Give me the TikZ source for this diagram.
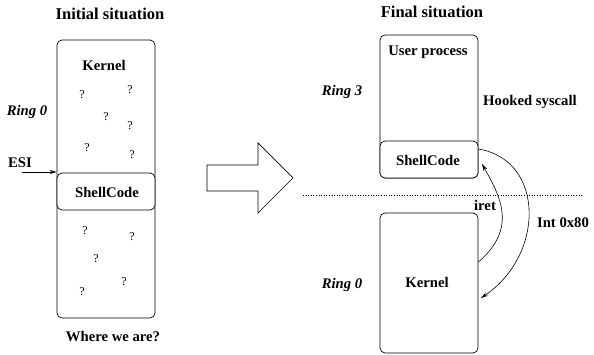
\documentclass[tikz,border=0pt]{standalone}
\usepackage{fontspec}
\setmainfont{Liberation Serif}
\usetikzlibrary{arrows.meta}
\begin{document}
\begin{tikzpicture}[x=1pt,y=-1pt,
  box/.style={draw,line width=0.7pt,rounded corners=5pt,inner sep=0pt},
  title/.style={font=\fontsize{16.5}{19}\selectfont\bfseries},
  lbl/.style={font=\fontsize{14.7}{17}\selectfont\bfseries},
  ring/.style={font=\fontsize{14.7}{17}\selectfont\bfseries\itshape},
  qm/.style={font=\fontsize{12}{14}\selectfont},
  arr/.style={line width=0.6pt,-{Stealth[length=7pt,width=4pt]}}]
\useasboundingbox (0,0) rectangle (594,355);
% left side
\node[box,minimum width=98pt,minimum height=278pt] (lbox) at (106,179) {};
\node[box,fill=white,minimum width=98pt,minimum height=37pt] (lsc) at (106,191.5) {};
\node[title] (tinit) at (110,14) {Initial situation};
\node[lbl] (lkern) at (104,65) {Kernel};
\node[lbl] (lsct) at (107,192) {ShellCode};
\node[ring] (lring) at (27,112) {Ring 0};
\node[lbl] (esi) at (20,163) {ESI};
\node[lbl] (where) at (113,337) {Where we are?};
\coordinate (esistart) at (22,172);
\draw[arr] (esistart) -- (esistart -| lbox.west);
\foreach \x/\y [count=\i] in {82/95,130/90,106/117,130/126,87/148,132/155,85/231,132/237,96/259,124/282,82/292}
  \node[qm] (q\i) at (\x,\y) {?};
% big arrow
\draw[line width=0.7pt] (207,165) -- (258,165) -- (258,143) -- (293,178) -- (258,213) -- (258,191) -- (207,191) -- cycle;
% right side
\node[box,minimum width=98pt,minimum height=143pt] (ubox) at (429,106.5) {};
\node[box,fill=white,minimum width=98pt,minimum height=37pt] (rsc) at (429,159.5) {};
\node[box,minimum width=98pt,minimum height=140pt] (kbox) at (429,283) {};
\node[title] (tfin) at (432,12) {Final situation};
\node[lbl] (user) at (428,52) {User process};
\node[lbl] (rsct) at (428,160) {ShellCode};
\node[lbl] (rkern) at (427,282) {Kernel};
\node[ring] (ring3) at (342,92) {Ring 3};
\node[ring] (ring0) at (342,285) {Ring 0};
\node[lbl] (hook) at (530,102) {Hooked syscall};
\node[lbl] (iret) at (485,205) {iret};
\node[lbl] (int) at (563,223) {Int 0x80};
\coordinate (d1) at (303,195);
\coordinate (d2) at (583,195);
\draw[dotted,line width=0.6pt] (d1) -- (d2);
\coordinate (iretS) at (kbox.east |- 0,262);
\coordinate (iretE) at (482,164);
\draw[arr] (iretS) .. controls (518,228) and (500,196) .. (iretE);
\coordinate (intS) at (rsc.east |- 0,149);
\coordinate (intE) at (481,298);
\draw[arr] (intS) .. controls (545,160) and (545,255) .. (intE);
\end{tikzpicture}
\end{document}
